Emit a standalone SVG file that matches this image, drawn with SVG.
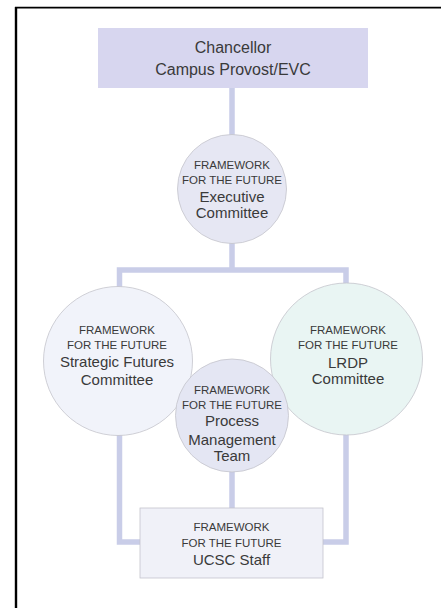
<svg xmlns="http://www.w3.org/2000/svg" width="441" height="608" viewBox="0 0 441 608">
<style>
.frame{stroke:#000;fill:none}
.conn{stroke:#c9cde8;stroke-width:5.5;fill:none;stroke-linejoin:miter}
.t{font-family:"Liberation Sans",Arial,sans-serif;fill:#3a3a3a;text-anchor:middle}
.small{font-size:11.5px}
.big{font-size:15px}
.head{font-size:16px}
.node{stroke:#c4c4cc;stroke-width:0.8}
</style>
<rect width="441" height="608" fill="#fff"/>
<g id="frame">
<line class="frame" x1="16" y1="7" x2="16" y2="608" stroke-width="2.4"/>
<line class="frame" x1="15" y1="7.6" x2="441" y2="7.6" stroke-width="1.8"/>
</g>
<g id="connectors">
<line class="conn" x1="232" y1="88" x2="232" y2="136"/>
<polyline class="conn" points="232,242 232,270"/>
<polyline class="conn" points="119.5,292 119.5,270 346,270 346,286"/>
<polyline class="conn" points="119.5,430 119.5,542 141,542"/>
<polyline class="conn" points="346,430 346,542 322,542"/>
<line class="conn" x1="232" y1="470" x2="232" y2="509"/>
</g>
<g id="chancellor">
<rect x="98" y="28" width="270" height="60" fill="#d7d6ef"/>
<text class="t head" x="233" y="53">Chancellor</text>
<text class="t head" x="233" y="75">Campus Provost/EVC</text>
</g>
<g id="executive">
<circle class="node" cx="232" cy="189" r="54.5" fill="#e6e7f3"/>
<text class="t small" x="232" y="169">FRAMEWORK</text>
<text class="t small" x="232" y="184">FOR THE FUTURE</text>
<text class="t big" x="232" y="202">Executive</text>
<text class="t big" x="232" y="218">Committee</text>
</g>
<g id="strategic">
<circle class="node" cx="118" cy="361" r="74.5" fill="#f1f3fa"/>
<text class="t small" x="117" y="334">FRAMEWORK</text>
<text class="t small" x="117" y="349">FOR THE FUTURE</text>
<text class="t big" x="117" y="367">Strategic Futures</text>
<text class="t big" x="117" y="385">Committee</text>
</g>
<g id="lrdp">
<circle class="node" cx="346.5" cy="359" r="76" fill="#e9f5f3"/>
<text class="t small" x="348" y="334">FRAMEWORK</text>
<text class="t small" x="348" y="349">FOR THE FUTURE</text>
<text class="t big" x="348" y="368">LRDP</text>
<text class="t big" x="348" y="384">Committee</text>
</g>
<g id="process">
<circle class="node" cx="232" cy="415.5" r="56.5" fill="#e4e6f3"/>
<text class="t small" x="232" y="394">FRAMEWORK</text>
<text class="t small" x="232" y="409">FOR THE FUTURE</text>
<text class="t big" x="232" y="426">Process</text>
<text class="t big" x="232" y="445">Management</text>
<text class="t big" x="232" y="461">Team</text>
</g>
<g id="staff">
<rect class="node" x="140" y="508" width="183" height="70" fill="#f0f1f8"/>
<text class="t small" x="231.5" y="531">FRAMEWORK</text>
<text class="t small" x="231.5" y="547">FOR THE FUTURE</text>
<text class="t big" x="231.5" y="565">UCSC Staff</text>
</g>
</svg>
